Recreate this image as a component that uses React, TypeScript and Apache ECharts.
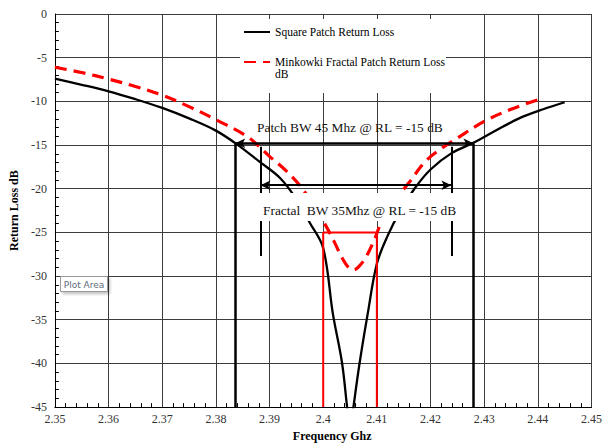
import React, { useEffect, useRef } from "react";
import * as echarts from "echarts";

// Square patch return loss (GHz, dB)
const squareFreq = [2.35, 2.355, 2.36, 2.365, 2.37, 2.375, 2.38, 2.384, 2.388, 2.392, 2.395, 2.3975, 2.4, 2.4018, 2.4035, 2.4044, 2.405, 2.4057, 2.4068, 2.4083, 2.41, 2.412, 2.4145, 2.417, 2.42, 2.424, 2.428, 2.432, 2.4365, 2.441, 2.445];
const squareRL = [-7.4, -8.1, -8.85, -9.75, -10.75, -11.95, -13.35, -14.95, -16.85, -18.8, -21.2, -23.9, -26.8, -34.3, -39.9, -44.7, -48, -44.7, -39.9, -34.3, -28.6, -25.4, -22.4, -20.0, -17.8, -15.9, -14.75, -13.4, -11.95, -10.9, -10.1];

// Minkowski fractal patch return loss (GHz, dB)
const fractalFreq = [2.35, 2.355, 2.36, 2.365, 2.37, 2.375, 2.38, 2.386, 2.39, 2.393, 2.396, 2.398, 2.4, 2.402, 2.4035, 2.4047, 2.4057, 2.4068, 2.408, 2.4095, 2.411, 2.4135, 2.416, 2.419, 2.422, 2.425, 2.43, 2.435, 2.4406];
const fractalRL = [-6.1, -6.7, -7.45, -8.3, -9.3, -10.6, -12.1, -14.1, -16.3, -17.9, -19.9, -21.8, -23.7, -26.0, -27.9, -29.0, -29.3, -28.8, -27.8, -25.9, -23.6, -21.2, -19.3, -16.9, -15.4, -14.2, -12.3, -10.9, -9.7];

// Annotations
const patchBwFreq = [2.3836, 2.428];
const patchBwLevel = -14.8;
const fractalBwFreq = [2.3883, 2.4239];
const fractalBwLevel = -19.6;
const fractalMarkSpan = [-15.2, -27.7];
const redBoxFreq = [2.4, 2.41];
const redBoxTop = -25;
const axisBottom = -45;

const SERIF = "Liberation Serif";

export default function App() {
  const ref = useRef<HTMLDivElement>(null);
  useEffect(() => {
    const chart = echarts.init(ref.current!, null, { renderer: "svg" });
    const gridColor = "#3c3c3c";
    const option: any = {
      animation: false,
      backgroundColor: "#ffffff",
      textStyle: { fontFamily: SERIF },
      grid: { left: 52, right: 11, top: 14, bottom: 31, containLabel: false },
      xAxis: {
        type: "value",
        min: 2.35,
        max: 2.45,
        interval: 0.01,
        name: "Frequency Ghz",
        nameLocation: "middle",
        nameGap: 17,
        nameTextStyle: { fontFamily: SERIF, fontWeight: "bold", fontSize: 12, color: "#000", padding: [0, 0, 0, 18] },
        axisLine: { show: true, onZero: false, lineStyle: { color: "#000", width: 1 } },
        axisTick: { show: false, inside: true },
        minorTick: { show: true, splitNumber: 5, length: 4, lineStyle: { color: "#000", width: 1 } },
        axisLabel: {
          fontFamily: SERIF,
          fontSize: 12,
          color: "#333",
          margin: 6,
          formatter: (v: number) => String(parseFloat(v.toFixed(2))),
        },
        splitLine: { show: true, lineStyle: { color: gridColor, width: 1 } },
      },
      yAxis: {
        type: "value",
        min: -45,
        max: 0,
        interval: 5,
        name: "Return Loss dB",
        nameLocation: "middle",
        nameGap: 32,
        nameRotate: 90,
        nameTextStyle: { fontFamily: SERIF, fontWeight: "bold", fontSize: 12, color: "#000" },
        axisLine: { show: true, onZero: false, lineStyle: { color: "#000", width: 1 } },
        axisTick: { show: false, inside: true },
        minorTick: { show: true, splitNumber: 5, length: 4, lineStyle: { color: "#000", width: 1 } },
        axisLabel: { fontFamily: SERIF, fontSize: 12, color: "#333", margin: 8 },
        splitLine: { show: true, lineStyle: { color: gridColor, width: 1 } },
      },
      legend: [
        {
          data: ["Square Patch Return Loss"],
          left: 243,
          top: 26,
          padding: 0,
          itemWidth: 26,
          itemHeight: 12,
          selectedMode: false,
          itemStyle: { opacity: 0 },
          textStyle: { fontFamily: SERIF, fontSize: 11.5, color: "#000", lineHeight: 12 },
        },
        {
          data: ["Minkowki Fractal Patch Return Loss dB"],
          left: 243,
          top: 44,
          padding: 0,
          itemWidth: 26,
          itemHeight: 12,
          selectedMode: false,
          itemStyle: { opacity: 0 },
          formatter: () => " \nMinkowki Fractal Patch Return Loss\ndB",
          textStyle: { fontFamily: SERIF, fontSize: 11.5, color: "#000", lineHeight: 12 },
        },
      ],
      series: [
        {
          name: "Square Patch Return Loss",
          type: "line",
          data: squareFreq.map((f, i) => [f, squareRL[i]]),
          showSymbol: false,
          symbol: "none",
          smooth: 0.35,
          lineStyle: { color: "#000", width: 2.3 },
          itemStyle: { color: "#000" },
          z: 3,
        },
        {
          name: "Minkowki Fractal Patch Return Loss dB",
          type: "line",
          data: fractalFreq.map((f, i) => [f, fractalRL[i]]),
          showSymbol: false,
          symbol: "none",
          smooth: 0.35,
          lineStyle: { color: "#ff0000", width: 3.2, type: [12, 7] },
          itemStyle: { color: "#ff0000" },
          z: 3,
        },
        {
          name: "redBox",
          type: "line",
          data: [
            [redBoxFreq[0], axisBottom],
            [redBoxFreq[0], redBoxTop],
            [redBoxFreq[1], redBoxTop],
            [redBoxFreq[1], axisBottom],
          ],
          showSymbol: false,
          symbol: "none",
          lineStyle: { color: "#ff0000", width: 2 },
          z: 4,
        },
        {
          name: "annotations",
          type: "line",
          data: [],
          z: 5,
          markLine: {
            silent: true,
            animation: false,
            label: { show: false },
            symbol: "none",
            lineStyle: { color: "#000", type: "solid", width: 2.5 },
            data: [
              [
                { coord: [patchBwFreq[0], patchBwLevel], symbol: "arrow", symbolSize: [7, 10] },
                { coord: [patchBwFreq[1], patchBwLevel], symbol: "arrow", symbolSize: [7, 10] },
              ],
              [{ coord: [patchBwFreq[0], patchBwLevel] }, { coord: [patchBwFreq[0], axisBottom] }],
              [{ coord: [patchBwFreq[1], patchBwLevel] }, { coord: [patchBwFreq[1], axisBottom] }],
              [
                { coord: [fractalBwFreq[0], fractalBwLevel], symbol: "arrow", symbolSize: [7, 10], lineStyle: { width: 2 } },
                { coord: [fractalBwFreq[1], fractalBwLevel], symbol: "arrow", symbolSize: [7, 10] },
              ],
              [
                { coord: [fractalBwFreq[0], fractalMarkSpan[0]], lineStyle: { width: 2 } },
                { coord: [fractalBwFreq[0], fractalMarkSpan[1]] },
              ],
              [
                { coord: [fractalBwFreq[1], fractalMarkSpan[0]], lineStyle: { width: 2 } },
                { coord: [fractalBwFreq[1], fractalMarkSpan[1]] },
              ],
            ],
          },
        },
      ],
      graphic: [
        {
          type: "rect",
          z: 1,
          shape: { x: 240, y: 19, width: 206, height: 74 },
          style: { fill: "#ffffff" },
          silent: true,
        },
        {
          type: "text",
          z: 20,
          x: 257,
          y: 127,
          style: {
            text: "Patch BW 45 Mhz @ RL = -15 dB",
            fontFamily: SERIF,
            fontSize: 13.4,
            fill: "#111",
            verticalAlign: "middle",
          },
        },
        {
          type: "rect",
          z: 20,
          shape: { x: 252, y: 193, width: 212, height: 28 },
          style: { fill: "#ffffff" },
          silent: true,
        },
        {
          type: "text",
          z: 21,
          x: 263,
          y: 210,
          style: {
            text: "Fractal  BW 35Mhz @ RL = -15 dB",
            fontFamily: SERIF,
            fontSize: 13.4,
            fill: "#111",
            verticalAlign: "middle",
          },
        },
        {
          type: "rect",
          z: 30,
          shape: { x: 60.5, y: 276.5, width: 47, height: 15 },
          style: {
            fill: "#ffffff",
            stroke: "#9a9a9a",
            lineWidth: 1,
            shadowBlur: 3,
            shadowOffsetX: 2,
            shadowOffsetY: 2,
            shadowColor: "rgba(0,0,0,0.25)",
          },
          silent: true,
        },
        {
          type: "text",
          z: 31,
          x: 84,
          y: 284.5,
          style: {
            text: "Plot Area",
            fontFamily: "DejaVu Sans",
            fontSize: 9,
            fill: "#5d6b7d",
            align: "center",
            verticalAlign: "middle",
          },
        },
      ],
    };
    chart.setOption(option);
    return () => chart.dispose();
  }, []);
  return <div ref={ref} style={{ position: "fixed", left: 0, top: 0, width: 605, height: 447 }} />;
}
